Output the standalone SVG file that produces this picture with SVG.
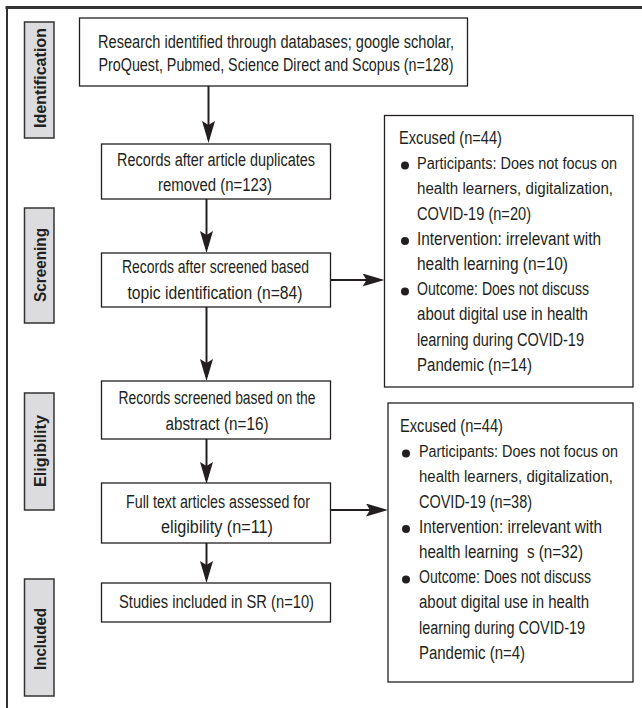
<svg xmlns="http://www.w3.org/2000/svg" width="642" height="708" viewBox="0 0 642 708">
<style>
text{font-family:"Liberation Sans Narrow","Liberation Sans",Arial,sans-serif;font-size:18px;fill:#231f20}
.c{text-anchor:middle}
.s{font-size:16px}
.lab{font-weight:bold;font-size:17px;text-anchor:middle}
.box{fill:#fff;stroke:#231f20;stroke-width:1.3}
.side{fill:#dcdcde;stroke:#333;stroke-width:1.5}
.arr{stroke:#231f20;stroke-width:2;fill:none;marker-end:url(#ah)}
.dot{fill:#231f20}
</style>
<defs>
<marker id="ah" viewBox="0 0 22 13" refX="18" refY="6.5" markerWidth="22" markerHeight="13" markerUnits="userSpaceOnUse" orient="auto">
<path d="M0,0 L22,6.5 L0,13 L4,6.5 Z" fill="#231f20"/>
</marker>
</defs>
<rect width="642" height="708" fill="#fff"/>
<g id="frame">
<line x1="5.5" y1="7.5" x2="642" y2="7.5" stroke="#333" stroke-width="3"/>
<line x1="7" y1="6" x2="7" y2="708" stroke="#333" stroke-width="2"/>
</g>
<g id="label-identification">
<rect class="side" x="24.5" y="22" width="29.5" height="116"/>
<text class="lab" transform="translate(45.5,78) rotate(-90)" textLength="100" lengthAdjust="spacingAndGlyphs">Identification</text>
</g>
<g id="label-screening">
<rect class="side" x="24.5" y="208" width="29.5" height="115"/>
<text class="lab" transform="translate(45.5,265) rotate(-90)" textLength="74" lengthAdjust="spacingAndGlyphs">Screening</text>
</g>
<g id="label-eligibility">
<rect class="side" x="24.5" y="393" width="29.5" height="117"/>
<text class="lab" transform="translate(45.5,451) rotate(-90)" textLength="72" lengthAdjust="spacingAndGlyphs">Eligibility</text>
</g>
<g id="label-included">
<rect class="side" x="24.5" y="579" width="29.5" height="117"/>
<text class="lab" transform="translate(45.5,639) rotate(-90)" textLength="62" lengthAdjust="spacingAndGlyphs">Included</text>
</g>
<g id="connectors">
<line class="arr" x1="208.5" y1="86" x2="208.5" y2="139"/>
<line class="arr" x1="206.5" y1="199" x2="206.5" y2="249"/>
<line class="arr" x1="206.5" y1="307" x2="206.5" y2="377"/>
<line class="arr" x1="206.5" y1="439" x2="206.5" y2="480"/>
<line class="arr" x1="206.5" y1="543" x2="206.5" y2="579"/>
<line class="arr" x1="330.5" y1="280" x2="380.5" y2="280"/>
<line class="arr" x1="330.5" y1="510" x2="384" y2="510"/>
</g>
<g id="n1">
<rect class="box" x="79.5" y="18" width="388" height="68"/>
<text class="c" x="276" y="47.5" textLength="356" lengthAdjust="spacingAndGlyphs">Research identified through databases; google scholar,</text>
<text class="c" x="276" y="70.5" textLength="355" lengthAdjust="spacingAndGlyphs">ProQuest, Pubmed, Science Direct and Scopus (n=128)</text>
</g>
<g id="n2">
<rect class="box" x="101.5" y="144" width="229" height="55"/>
<text class="c" x="216" y="166" textLength="198" lengthAdjust="spacingAndGlyphs">Records after article duplicates</text>
<text class="c" x="215" y="191" textLength="114" lengthAdjust="spacingAndGlyphs">removed (n=123)</text>
</g>
<g id="n3">
<rect class="box" x="101.5" y="253" width="229" height="54"/>
<text class="c" x="215.5" y="272.5" textLength="187" lengthAdjust="spacingAndGlyphs">Records after screened based</text>
<text class="c" x="215" y="298.5" textLength="175" lengthAdjust="spacingAndGlyphs">topic identification (n=84)</text>
</g>
<g id="n4">
<rect class="box" x="101.5" y="381" width="229" height="58"/>
<text class="c" x="217" y="404" textLength="197" lengthAdjust="spacingAndGlyphs">Records screened based on the</text>
<text class="c" x="217" y="430" textLength="103" lengthAdjust="spacingAndGlyphs">abstract (n=16)</text>
</g>
<g id="n5">
<rect class="box" x="101.5" y="483" width="229" height="60"/>
<text class="c" x="218" y="508" textLength="184" lengthAdjust="spacingAndGlyphs">Full text articles assessed for</text>
<text class="c" x="217" y="533" textLength="112" lengthAdjust="spacingAndGlyphs">eligibility (n=11)</text>
</g>
<g id="n6">
<rect class="box" x="101.5" y="583" width="229" height="39"/>
<text class="c" x="216.5" y="608" textLength="195" lengthAdjust="spacingAndGlyphs">Studies included in SR (n=10)</text>
</g>
<g id="excl1">
<rect class="box" x="384.5" y="115.5" width="248.5" height="271.5"/>
<text x="399" y="144" textLength="103" lengthAdjust="spacingAndGlyphs">Excused (n=44)</text>
<circle class="dot" cx="405" cy="165.5" r="4"/>
<text class="s" x="417" y="168.8" textLength="200" lengthAdjust="spacingAndGlyphs">Participants: Does not focus on</text>
<text class="s" x="417" y="194" textLength="196" lengthAdjust="spacingAndGlyphs">health learners, digitalization,</text>
<text x="417" y="219.6" textLength="114" lengthAdjust="spacingAndGlyphs">COVID-19 (n=20)</text>
<circle class="dot" cx="405" cy="241" r="4"/>
<text x="417" y="244.8" textLength="184" lengthAdjust="spacingAndGlyphs">Intervention: irrelevant with</text>
<text x="417" y="270" textLength="151" lengthAdjust="spacingAndGlyphs">health learning (n=10)</text>
<circle class="dot" cx="405" cy="291.5" r="4"/>
<text x="417" y="295.2" textLength="172" lengthAdjust="spacingAndGlyphs">Outcome: Does not discuss</text>
<text x="417" y="320.4" textLength="171" lengthAdjust="spacingAndGlyphs">about digital use in health</text>
<text x="417" y="345.6" textLength="167" lengthAdjust="spacingAndGlyphs">learning during COVID-19</text>
<text x="417" y="370.8" textLength="115" lengthAdjust="spacingAndGlyphs">Pandemic (n=14)</text>
</g>
<g id="excl2">
<rect class="box" x="388" y="403" width="245" height="279"/>
<text x="400" y="432" textLength="103" lengthAdjust="spacingAndGlyphs">Excused (n=44)</text>
<circle class="dot" cx="406" cy="453.5" r="4"/>
<text class="s" x="419" y="456.8" textLength="199" lengthAdjust="spacingAndGlyphs">Participants: Does not focus on</text>
<text class="s" x="419" y="482" textLength="194" lengthAdjust="spacingAndGlyphs">health learners, digitalization,</text>
<text x="419" y="507.6" textLength="113" lengthAdjust="spacingAndGlyphs">COVID-19 (n=38)</text>
<circle class="dot" cx="406" cy="529" r="4"/>
<text x="419" y="532.8" textLength="183" lengthAdjust="spacingAndGlyphs">Intervention: irrelevant with</text>
<text x="419" y="558" textLength="164" lengthAdjust="spacingAndGlyphs" xml:space="preserve">health learning  s (n=32)</text>
<circle class="dot" cx="406" cy="579.5" r="4"/>
<text x="419" y="583.2" textLength="172" lengthAdjust="spacingAndGlyphs">Outcome: Does not discuss</text>
<text x="419" y="608.4" textLength="170" lengthAdjust="spacingAndGlyphs">about digital use in health</text>
<text x="419" y="633.6" textLength="166" lengthAdjust="spacingAndGlyphs">learning during COVID-19</text>
<text x="419" y="658.8" textLength="106" lengthAdjust="spacingAndGlyphs">Pandemic (n=4)</text>
</g>
</svg>
